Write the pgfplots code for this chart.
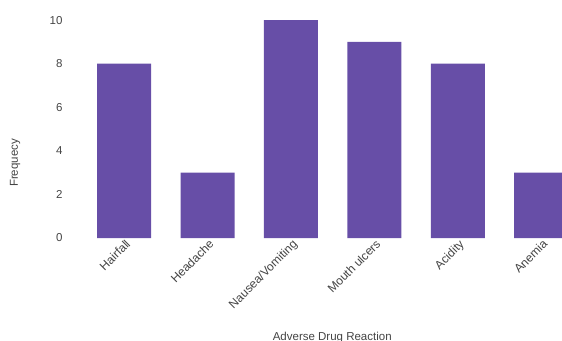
\documentclass[border=0pt]{standalone}
\usepackage{pgfplots}
\pgfplotsset{compat=1.18}
\usepackage{fontspec}
\setmainfont{Liberation Sans}
\definecolor{barc}{HTML}{674EA7}
\definecolor{txt}{HTML}{444444}
\begin{document}
\begin{tikzpicture}[x=1pt,y=1pt]
\useasboundingbox (0,0) rectangle (562,340);
\clip (0,0) rectangle (562,340);
\begin{axis}[
  at={(70pt,102pt)}, anchor=south west,
  scale only axis, width=492pt, height=238pt,
  xmin=-0.65, xmax=5.25, ymin=0, ymax=10.92,
  axis line style={draw=none},
  major tick length=0pt,
  ytick={0,2,4,6,8,10},
  xtick={0,1,2,3,4,5},
  xticklabels={Hairfall,Headache,Nausea/Vomiting,Mouth ulcers,Acidity,Anemia},
  ticklabel style={font=\fontsize{11.5}{13}\selectfont, text=txt},
  yticklabel style={xshift=-4pt},
  xticklabel style={font=\fontsize{12}{14}\selectfont, rotate=45, anchor=north east, inner sep=1pt, xshift=1pt, yshift=0pt},
  /pgf/number format/assume math mode=true,
  xlabel={Adverse Drug Reaction},
  ylabel={Frequecy},
  label style={font=\fontsize{11.5}{13}\selectfont, text=txt},
  xlabel style={at={([yshift=-94pt]rel axis cs:0.533,0)}, anchor=north, inner sep=0pt},
  ylabel style={at={([xshift=-55pt]rel axis cs:0,0.315)}, anchor=center, inner sep=0pt},
  ybar, bar width=54pt,
]
\addplot[fill=barc, draw=none] coordinates {(0,8) (1,3) (2,10) (3,9) (4,8) (5,3)};
\end{axis}
\end{tikzpicture}
\end{document}
